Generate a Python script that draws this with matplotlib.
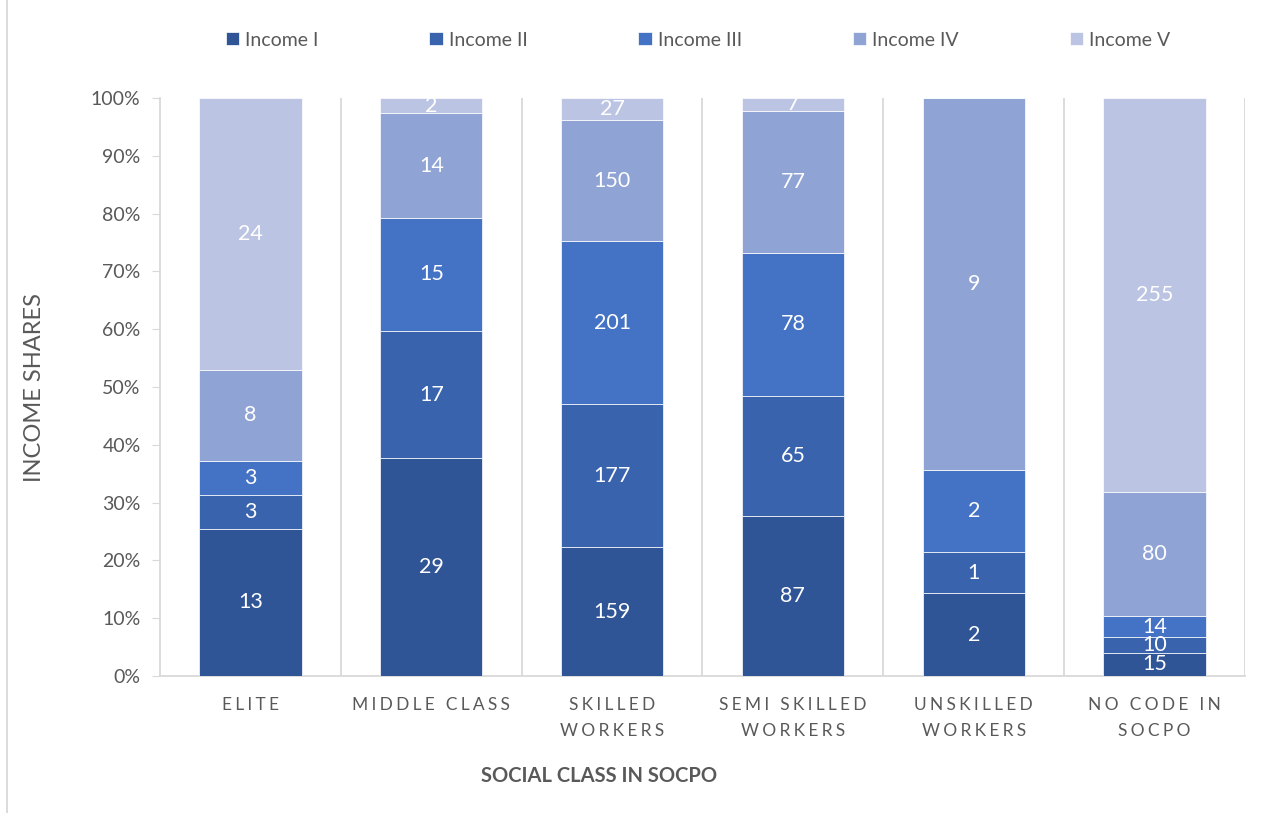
import matplotlib.pyplot as plt
import numpy as np
from matplotlib.lines import Line2D

plt.rcParams['font.family'] = ['Lato', 'DejaVu Sans']

categories = ['ELITE', 'MIDDLE CLASS', 'SKILLED\nWORKERS', 'SEMI SKILLED\nWORKERS',
              'UNSKILLED\nWORKERS', 'NO CODE IN\nSOCPO']
series_names = ['Income I', 'Income II', 'Income III', 'Income IV', 'Income V']
income_1 = [13, 29, 159, 87, 2, 15]
income_2 = [3, 17, 177, 65, 1, 10]
income_3 = [3, 15, 201, 78, 2, 14]
income_4 = [8, 14, 150, 77, 9, 80]
income_5 = [24, 2, 27, 7, 0, 255]
colors = ['#2F5597', '#3A63AD', '#4472C4', '#8FA3D5', '#BCC4E3']

series = [income_1, income_2, income_3, income_4, income_5]
counts = np.array(series, dtype=float)
totals = counts.sum(axis=0)
shares = counts / totals * 100

fig = plt.figure(figsize=(12.77, 8.13), dpi=100)
ax = fig.add_axes([160 / 1277, 1 - 676 / 813, 1085 / 1277, (676 - 98) / 813])

x = np.arange(len(categories))
bottom = np.zeros(len(categories))
for i in range(len(series)):
    ax.bar(x, shares[i], 0.565, bottom=bottom, color=colors[i], label=series_names[i],
           edgecolor='white', linewidth=0.5, zorder=3)
    for j in range(len(categories)):
        if counts[i, j] > 0:
            ax.text(x[j], bottom[j] + shares[i, j] / 2, '%d' % counts[i, j], ha='center',
                    va='center', color='white', fontsize=15.5, zorder=4)
    bottom += shares[i]

ax.set_xlim(-0.5, len(categories) - 0.5)
ax.set_ylim(0, 100)
ax.set_yticks(np.arange(0, 101, 10))
ax.set_yticklabels(['%d%%' % v for v in range(0, 101, 10)], fontsize=14, color='#595959')
ax.tick_params(axis='y', length=6, color='#D9D9D9', pad=8)

# spaced-out category labels
spaced = ['\n'.join('\u2009\u200a'.join(list(line)) for line in c.split('\n')) for c in categories]
ax.set_xticks(x)
ax.set_xticklabels(spaced, fontsize=12.5, color='#595959', linespacing=1.75)
ax.tick_params(axis='x', length=0, pad=15)

for b in np.arange(0.5, len(categories) - 0.5, 1):
    ax.axvline(b, color='#D9D9D9', linewidth=1.3, zorder=1)
ax.axvline(len(categories) - 0.5, color='#D9D9D9', linewidth=1.3, zorder=1)
for s in ['top', 'right']:
    ax.spines[s].set_visible(False)
for s in ['left', 'bottom']:
    ax.spines[s].set_color('#D9D9D9')
    ax.spines[s].set_linewidth(1.3)

ax.set_ylabel('INCOME SHARES', fontsize=17, color='#595959')
ax.yaxis.set_label_coords(-115 / 1085, 0.5)
fig.text(599 / 1277, 1 - 776 / 813, 'SOCIAL CLASS IN SOCPO', ha='center', va='center',
         fontsize=14.5, fontweight='bold', color='#595959')

fig.legend(loc='center', bbox_to_anchor=(698 / 1277, 1 - 40 / 813), ncol=5, frameon=False,
           fontsize=14, handlelength=0.7, handleheight=0.7, handletextpad=0.3,
           columnspacing=5.7, labelcolor='#595959')

fig.add_artist(Line2D([7 / 1277, 7 / 1277], [0, 1], color='#D9D9D9', linewidth=1.3))

fig.savefig('out.png', dpi=100)
